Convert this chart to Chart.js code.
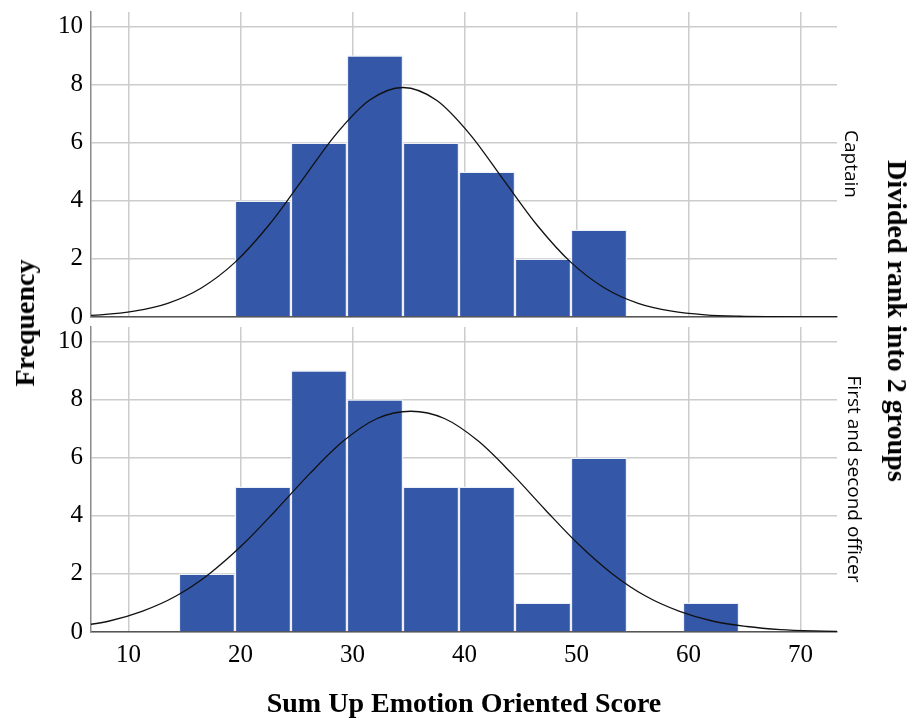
<!DOCTYPE html>
<html lang="en">
<head>
    <meta charset="UTF-8">
    <meta name="viewport" content="width=device-width, initial-scale=1.0">
    <title>Sum Up Emotion Oriented Score</title>
    <script src="https://cdn.jsdelivr.net/npm/chart.js"></script>
    <style>
        body { margin: 0; background: #fff; }
        #wrap { position: relative; width: 912px; height: 720px; overflow: hidden; }
        #wrap canvas { position: absolute; left: 0; }
        .label { position: absolute; white-space: nowrap; color: #000; transform-origin: center; }
        .title { font: bold 28px "Liberation Serif", "Times New Roman", serif; }
        .group { font: 19px "Open Sans", "DejaVu Sans", sans-serif; }
    </style>
</head>
<body>
    <div id="wrap">
        <!-- top canvas is taller than its panel so the "0" label is not cut; it stays transparent below -->
        <canvas id="top" width="912" height="345" style="top:0"></canvas>
        <canvas id="bottom" width="912" height="398" style="top:322px"></canvas>

        <div class="label title" style="left:25px; top:323px; transform:translate(-50%,-50%) rotate(-90deg)">Frequency</div>
        <div class="label title" style="left:897px; top:321px; transform:translate(-50%,-50%) rotate(90deg)">Divided rank into 2 groups</div>
        <div class="label group" style="left:852px; top:164px; transform:translate(-50%,-50%) rotate(90deg)">Captain</div>
        <div class="label group" style="left:855px; top:479px; transform:translate(-50%,-50%) rotate(90deg)">First and second officer</div>
        <div class="label title" style="left:464px; top:703px; transform:translate(-50%,-50%)">Sum Up Emotion Oriented Score</div>
    </div>
<script>

// histogram bins (centres of 5-point bins, edges at x.5)
let binCentres = [17, 22, 27, 32, 37, 42, 47, 52, 57, 62];
let captainCounts = [0, 4, 6, 9, 6, 5, 2, 3, 0, 0];
let officerCounts = [2, 5, 9, 8, 5, 5, 1, 6, 0, 1];

// normal curves
let captainCurveX = [4.5, 7.5, 10.5, 13.5, 16.5, 19.5, 22.5, 25.5, 28.5, 31.5, 34.5, 37.5, 40.5, 43.5, 46.5, 49.5, 52.5, 55.5, 58.5, 61.5, 64.5, 67.5, 70.5, 73.5];
let captainCurveY = [0.025, 0.075, 0.20, 0.47, 1.00, 1.88, 3.15, 4.71, 6.28, 7.46, 7.9, 7.46, 6.28, 4.71, 3.15, 1.88, 1.00, 0.47, 0.20, 0.075, 0.025, 0.008, 0.002, 0.001];
let officerCurveX = [5.2, 8.2, 11.2, 14.2, 17.2, 20.2, 23.2, 26.2, 29.2, 32.2, 35.2, 38.2, 41.2, 44.2, 47.2, 50.2, 53.2, 56.2, 59.2, 62.2, 65.2, 68.2, 71.2, 74.2];
let officerCurveY = [0.19, 0.37, 0.71, 1.23, 2.00, 3.01, 4.21, 5.46, 6.58, 7.35, 7.6, 7.35, 6.58, 5.46, 4.21, 3.01, 2.00, 1.23, 0.71, 0.37, 0.19, 0.085, 0.036, 0.014];

let xTicks = [10, 20, 30, 40, 50, 60, 70];
let yTicks = [0, 2, 4, 6, 8, 10];

let barColor = '#3457a8';
let gridColor = '#cccccc';
let tickFont = { family: '"Liberation Serif", "Times New Roman", serif', size: 25 };

function toPoints(xs, ys) {
    return xs.map((x, i) => ({ x: x, y: ys[i] }));
}

function makeChart(canvasId, counts, curveX, curveY, showXTicks, padTop, xHeight) {
    let config = {
        type: 'bar',
        data: {
            datasets: [
                {
                    type: 'line',
                    data: toPoints(curveX, curveY),
                    borderColor: '#111',
                    borderWidth: 1.3,
                    pointRadius: 0,
                    cubicInterpolationMode: 'monotone',
                    clip: 0,
                    order: 0
                },
                {
                    type: 'bar',
                    data: toPoints(binCentres, counts),
                    backgroundColor: barColor,
                    borderColor: '#eef1f8',
                    borderWidth: 1.5,
                    barPercentage: 1,
                    categoryPercentage: 1,
                    order: 1
                }
            ]
        },
        options: {
            responsive: false,
            animation: false,
            layout: { padding: { top: padTop, right: 75, left: 0, bottom: 0 } },
            scales: {
                x: {
                    type: 'linear',
                    offset: false,
                    min: 6.65,
                    max: 73.25,
                    afterBuildTicks: s => { s.ticks = xTicks.map(v => ({ value: v })); },
                    afterFit: s => { s.height = xHeight; s.paddingLeft = 0; s.paddingRight = 0; },
                    ticks: { display: showXTicks, font: tickFont, color: '#000', padding: 8, maxRotation: 0 },
                    grid: { color: gridColor, lineWidth: 1.5, drawTicks: false, offset: false },
                    border: { color: '#555', width: 1.5 }
                },
                y: {
                    min: 0,
                    max: 10.5,
                    afterBuildTicks: s => { s.ticks = yTicks.map(v => ({ value: v })); },
                    afterFit: s => { s.width = 91; s.paddingTop = 0; s.paddingBottom = 0; },
                    ticks: { font: tickFont, color: '#000', padding: 8 },
                    grid: { color: gridColor, lineWidth: 1.5, drawTicks: false },
                    border: { color: '#8a8a8a', width: 1.5 }
                }
            },
            plugins: {
                legend: { display: false },
                tooltip: { enabled: false }
            }
        }
    };
    return new Chart(document.getElementById(canvasId), config);
}

makeChart('top', captainCounts, captainCurveX, captainCurveY, false, 12, 345 - 317);
makeChart('bottom', officerCounts, officerCurveX, officerCurveY, true, 5, 88);

</script>
</body>
</html>
